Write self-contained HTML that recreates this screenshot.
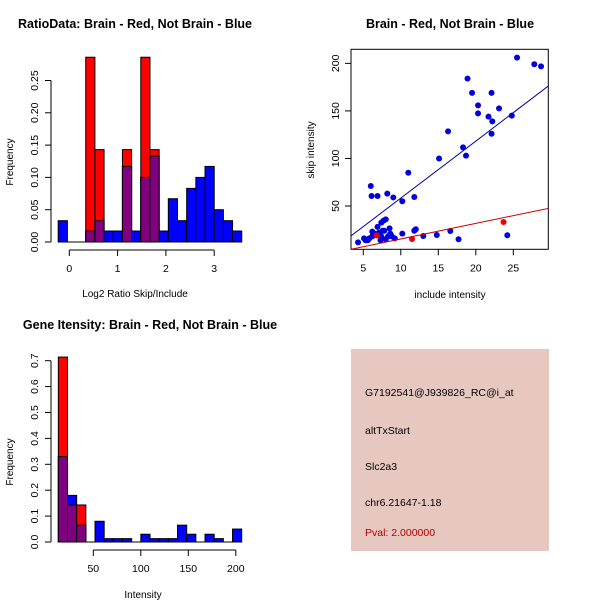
<!DOCTYPE html>
<html><head><meta charset="utf-8"><style>
html,body{margin:0;padding:0;background:#fff;}
svg{display:block;font-family:"Liberation Sans",Arial,sans-serif;}
</style></head><body>
<svg id="chart" width="600" height="600" viewBox="0 0 600 600">
<rect x="0" y="0" width="600" height="600" fill="#fff"/>
<text x="135" y="28" font-size="12.5" font-weight="bold" text-anchor="middle">RatioData: Brain - Red, Not Brain - Blue</text>
<text x="135" y="297" font-size="10" text-anchor="middle">Log2 Ratio Skip/Include</text>
<text transform="translate(13,162) rotate(-90)" font-size="10" text-anchor="middle">Frequency</text>
<text x="450" y="28" font-size="12.5" font-weight="bold" text-anchor="middle">Brain - Red, Not Brain - Blue</text>
<text x="450" y="298" font-size="10" text-anchor="middle">include intensity</text>
<text transform="translate(314,150) rotate(-90)" font-size="10" text-anchor="middle">skip intensity</text>
<text x="150" y="329" font-size="12.5" font-weight="bold" text-anchor="middle">Gene Itensity: Brain - Red, Not Brain - Blue</text>
<text x="143" y="598" font-size="10" text-anchor="middle">Intensity</text>
<text transform="translate(13,462) rotate(-90)" font-size="10" text-anchor="middle">Frequency</text>
<g>
<rect x="351" y="349" width="198" height="202" fill="#E6C8C0"/>
<text x="365" y="396" font-size="10.5">G7192541@J939826_RC@i_at</text>
<text x="365" y="434" font-size="10.5">altTxStart</text>
<text x="365" y="470" font-size="10.5">Slc2a3</text>
<text x="365" y="506" font-size="10.5">chr6.21647-1.18</text>
<text x="365" y="536" font-size="10.5" fill="#B00000">Pval: 2.000000</text>
</g>
<g id="g1"></g><g id="g2"></g><g id="g3"></g>
</svg>
<script>
// Ratio histogram data
const ratioBinStart = -0.23;
const ratioBinWidth = 0.19;
const ratioBlue = [0.033,0,0,0.017,0.033,0.017,0.017,0.117,0.017,0.1,0.133,0.017,0.067,0.033,0.083,0.1,0.117,0.05,0.033,0.017];
const ratioRed  = [0,0,0,0.286,0.143,0,0,0.143,0,0.286,0.143,0,0,0,0,0,0,0,0,0];
const ratioXTicks = [0,1,2,3];
const ratioYTicks = ["0.00","0.05","0.10","0.15","0.20","0.25"];
// Intensity histogram data
const intBinStart = 13.2;
const intBinWidth = 9.65;
const intBlue = [0.33,0.18,0.065,0,0.08,0.013,0.013,0.013,0,0.03,0.013,0.013,0.013,0.065,0.03,0,0.03,0.013,0,0.05];
const intRed  = [0.714,0.143,0.143,0,0,0,0,0,0,0,0,0,0,0,0,0,0,0,0,0];
const intXTicks = [50,100,150,200];
const intYTicks = ["0.0","0.1","0.2","0.3","0.4","0.5","0.6","0.7"];
// Scatter data
const blueX = [4.3,5.1,5.3,5.6,5.8,6.0,6.1,6.2,6.2,6.5,6.9,6.9,7.1,7.3,7.4,7.4,7.6,7.7,7.8,8.0,8.0,8.2,8.3,8.5,8.6,8.8,9.0,9.2,10.2,10.2,11.0,11.8,11.8,12.0,13.0,14.8,15.1,16.3,16.6,17.7,18.3,18.7,18.9,19.5,20.3,20.3,21.7,22.1,22.1,22.2,23.1,24.2,24.8,25.5,27.8,28.7];
const blueY = [11.8,16,14,14,16,71,60.5,23,18,21,60.5,28,22,14,32.5,18,24,34.6,24,36,15,63,18,26.5,21,18,59,16,55,21,85,59.5,24,25.5,18.5,19.5,100,128.5,23.7,15,111.6,103,184,169,155.8,147.4,144,169,126,139,152.6,19.2,145,206,199,196.8];
const redX = [6.8,11.5,23.7];
const redY = [19,15.3,33.2];
const blueFit = [-1.6,5.99];
const redFit = [-1.0,1.635];
const scatXTicks = [5,10,15,20,25];
const scatYTicks = [50,100,150,200];

const NS="http://www.w3.org/2000/svg";
function mk(parent,tag,attrs){const e=document.createElementNS(NS,tag);for(const k in attrs)e.setAttribute(k,attrs[k]);parent.appendChild(e);return e;}

function hist(g,x0,bw,blue,red,xT,yT,xs,ys,prefix,axisY,axisX){
  for(let i=0;i<blue.length;i++){
    const a=x0+i*bw,b=a+bw;
    const X1=xs(a),X2=xs(b);
    const bv=blue[i],rv=red[i];
    if(bv>0){const r=mk(g,'rect',{x:X1,y:ys(bv),width:X2-X1,height:ys(0)-ys(bv),fill:'#0000FF',stroke:'#000','stroke-width':1});
      
      }
    if(rv>0){const r=mk(g,'rect',{x:X1,y:ys(rv),width:X2-X1,height:ys(0)-ys(rv),fill:'#FF0000',stroke:'#000','stroke-width':1});
      
      }
    const m=Math.min(bv,rv);
    if(m>0){const r=mk(g,'rect',{x:X1,y:ys(m),width:X2-X1,height:ys(0)-ys(m),fill:'#800080',stroke:'#000','stroke-width':1});
      
      }
  }
  mk(g,'line',{x1:xs(x0),x2:xs(x0+bw*blue.length),y1:ys(0),y2:ys(0),stroke:'#000'});
  const yv=yT.map(Number);
  const ya=mk(g,'line',{x1:axisX,x2:axisX,y1:ys(yv[0]),y2:ys(yv[yv.length-1]),stroke:'#000'});
  
  
  yT.forEach(t=>{const y=ys(Number(t));
    mk(g,'line',{x1:axisX-6,x2:axisX,y1:y,y2:y,stroke:'#000'});
    const tx=mk(g,'text',{transform:`translate(${axisX-13},${y}) rotate(-90)`,'font-size':10.5,'text-anchor':'middle'});
    tx.textContent=t;
    
    });
  const xa=mk(g,'line',{x1:xs(xT[0]),x2:xs(xT[xT.length-1]),y1:axisY,y2:axisY,stroke:'#000'});
  
  
  xT.forEach(t=>{const x=xs(t);
    mk(g,'line',{x1:x,x2:x,y1:axisY,y2:axisY+6,stroke:'#000'});
    const tx=mk(g,'text',{x:x,y:axisY+22,'font-size':10.5,'text-anchor':'middle'});
    tx.textContent=t;
    
    });
}
hist(document.getElementById('g1'),ratioBinStart,ratioBinWidth,ratioBlue,ratioRed,ratioXTicks,ratioYTicks,
  v=>69.3+v*48.3, v=>242-v*646, 'ratio', 250, 51);
hist(document.getElementById('g3'),intBinStart,intBinWidth,intBlue,intRed,intXTicks,intYTicks,
  v=>93.3+(v-50)*0.95, v=>542-v*259, 'intensity', 550, 51);

const g2=document.getElementById('g2');
const sx=v=>363.3+(v-5)*7.5, sy=v=>206-(v-50)*0.951;
const L=351,R=548.3,T=49.3,B=249.3;
const box=mk(g2,'rect',{x:L,y:T,width:R-L,height:B-T,fill:'none',stroke:'#000'});


mk(g2,'clipPath',{id:'clp'}).appendChild(document.createElementNS(NS,'rect'));
const cr=g2.querySelector('#clp rect');cr.setAttribute('x',L);cr.setAttribute('y',T);cr.setAttribute('width',R-L);cr.setAttribute('height',B-T);
const inner=mk(g2,'g',{'clip-path':'url(#clp)'});
blueX.forEach((x,i)=>{const c=mk(inner,'circle',{cx:sx(x),cy:sy(blueY[i]),r:3,fill:'#0000DD'});
  
  });
redX.forEach((x,i)=>{const c=mk(inner,'circle',{cx:sx(x),cy:sy(redY[i]),r:3,fill:'#EE0000'});
  
  });
const xa0=0,xa1=35;
const bl=mk(inner,'line',{x1:sx(xa0),y1:sy(blueFit[0]+blueFit[1]*xa0),x2:sx(xa1),y2:sy(blueFit[0]+blueFit[1]*xa1),stroke:'#0000AA'});


const rl=mk(inner,'line',{x1:sx(xa0),y1:sy(redFit[0]+redFit[1]*xa0),x2:sx(xa1),y2:sy(redFit[0]+redFit[1]*xa1),stroke:'#CC0000'});


scatXTicks.forEach(t=>{const x=sx(t);
  mk(g2,'line',{x1:x,x2:x,y1:B,y2:B+6,stroke:'#000'});
  const tx=mk(g2,'text',{x:x,y:B+22,'font-size':10.5,'text-anchor':'middle'});
  tx.textContent=t;
  
  });
scatYTicks.forEach(t=>{const y=sy(t);
  mk(g2,'line',{x1:L-6,x2:L,y1:y,y2:y,stroke:'#000'});
  const tx=mk(g2,'text',{transform:`translate(${L-12},${y}) rotate(-90)`,'font-size':10.5,'text-anchor':'middle'});
  tx.textContent=t;
  
  });
</script>
</body></html>
